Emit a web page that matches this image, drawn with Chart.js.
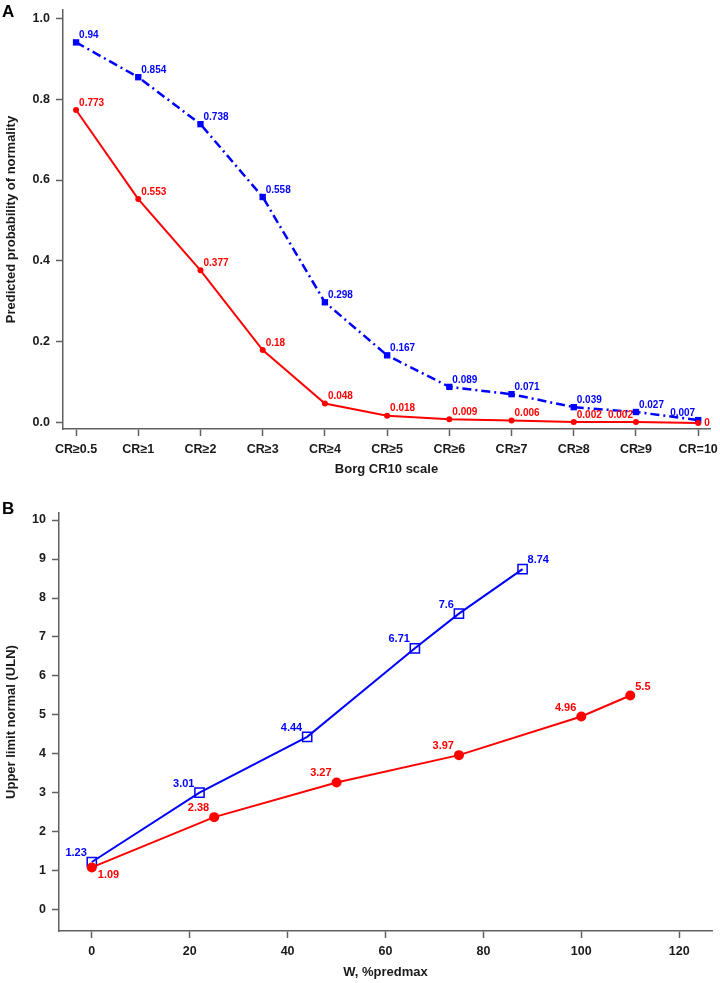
<!DOCTYPE html>
<html>
<head>
<meta charset="utf-8">
<script src="https://cdn.jsdelivr.net/npm/chart.js@4"></script>
<style>
  body { margin: 0; background: #fff; font-family: "Liberation Sans", Arial, sans-serif; }
  .panel { position: absolute; left: 0; width: 720px; }
  #panelA { top: 0; height: 480px; }
  #panelB { top: 480px; height: 503px; }
  .tag { position: absolute; left: 2px; font-weight: bold; font-size: 17px; line-height: 17px; color: #000; z-index: 2; }
</style>
</head>
<body>
<div class="tag" style="top:3px">A</div>
<div class="tag" style="top:500px">B</div>
<div class="panel" id="panelA"><canvas id="chartA" width="720" height="480"></canvas></div>
<div class="panel" id="panelB"><canvas id="chartB" width="720" height="503"></canvas></div>

<script>
// panel A: predicted probability of normality by Borg CR10 threshold
const borgCats = ['CR≥0.5', 'CR≥1', 'CR≥2', 'CR≥3', 'CR≥4', 'CR≥5', 'CR≥6', 'CR≥7', 'CR≥8', 'CR≥9', 'CR=10'];
const probRed = [0.773, 0.553, 0.377, 0.18, 0.048, 0.018, 0.009, 0.006, 0.002, 0.002, 0];
const probBlue = [0.94, 0.854, 0.738, 0.558, 0.298, 0.167, 0.089, 0.071, 0.039, 0.027, 0.007];
const probTicks = [0, 0.2, 0.4, 0.6, 0.8, 1.0];

// panel B: upper limit normal vs work rate
const wBlue = [0, 22, 44, 66, 75, 88];
const ulnBlue = [1.23, 3.01, 4.44, 6.71, 7.6, 8.74];
const wRed = [0, 25, 50, 75, 100, 110];
const ulnRed = [1.09, 2.38, 3.27, 3.97, 4.96, 5.5];
const wTicks = [0, 20, 40, 60, 80, 100, 120];
const ulnTicks = [0, 1, 2, 3, 4, 5, 6, 7, 8, 9, 10];

const RED = '#ff0000';
const BLUE = '#0000ff';
const AXIS = '#606060';
const TEXT = '#1a1a1a';
const FONT = '"Liberation Sans", Arial, sans-serif';
const TICK_FONT = { family: FONT, size: 12.5, weight: 'bold' };
const TITLE_FONT = { family: FONT, size: 13, weight: 'bold' };

// draws each point's value next to it; placement comes from dataset.labelPos
function pointLabels(fontSize, dx, dy) {
    return {
        id: 'pointLabels',
        afterDatasetsDraw(chart) {
            const ctx = chart.ctx;
            ctx.save();
            ctx.font = `bold ${fontSize}px ${FONT}`;
            ctx.textBaseline = 'middle';
            chart.data.datasets.forEach((ds, i) => {
                const meta = chart.getDatasetMeta(i);
                ctx.fillStyle = ds.borderColor;
                meta.data.forEach((pt, j) => {
                    const pos = ds.labelPos[j];
                    const text = String(ds.data[j].y);
                    let x = pt.x, y = pt.y;
                    if (pos === 'ne') { ctx.textAlign = 'left'; x += dx; y -= dy; }
                    else if (pos === 'nw') { ctx.textAlign = 'right'; x -= dx; y -= dy; }
                    else if (pos === 'e') { ctx.textAlign = 'left'; x += dx * 2; }
                    else if (pos === 'se') { ctx.textAlign = 'left'; x += dx + 1; y += dy - 1; }
                    ctx.fillText(text, x, y);
                });
            });
            ctx.restore();
        }
    };
}

function axisStyle(titleText, extra) {
    return Object.assign({
        type: 'linear',
        border: { color: AXIS, width: 1.5 },
        grid: { drawOnChartArea: false, drawTicks: true, tickLength: 7, tickColor: AXIS, tickWidth: 1.5 },
        title: { display: true, text: titleText, color: TEXT, font: TITLE_FONT, padding: { top: 4, bottom: 3 } }
    }, extra);
}

function fixWidth(w) {
    return s => { s.width = w; s.paddingTop = 0; s.paddingBottom = 0; };
}
function fixHeight(h) {
    return s => { s.height = h; s.paddingLeft = 0; s.paddingRight = 0; };
}

function buildChartA() {
    const ctx = document.getElementById('chartA').getContext('2d');
    new Chart(ctx, {
        type: 'line',
        data: {
            datasets: [
                {
                    data: probRed.map((v, i) => ({ x: i, y: v })),
                    borderColor: RED, backgroundColor: RED, borderWidth: 2,
                    pointStyle: 'circle', pointRadius: 3, pointBorderWidth: 0,
                    labelPos: ['ne', 'ne', 'ne', 'ne', 'ne', 'ne', 'ne', 'ne', 'ne', 'nw', 'e']
                },
                {
                    data: probBlue.map((v, i) => ({ x: i, y: v })),
                    borderColor: BLUE, backgroundColor: BLUE, borderWidth: 2.5,
                    borderDash: [9, 4, 2, 4],
                    pointStyle: 'rect', pointRadius: 4.5, pointBorderWidth: 0,
                    labelPos: ['ne', 'ne', 'ne', 'ne', 'ne', 'ne', 'ne', 'ne', 'ne', 'ne', 'nw']
                }
            ]
        },
        options: {
            responsive: false,
            animation: false,
            layout: { padding: { left: 0, right: 10, top: 10, bottom: 0 } },
            plugins: { legend: { display: false }, tooltip: { enabled: false } },
            scales: {
                x: axisStyle('Borg CR10 scale', {
                    min: -0.21, max: 10.19,
                    afterBuildTicks: s => { s.ticks = borgCats.map((_, i) => ({ value: i })); },
                    afterFit: fixHeight(51),
                    ticks: { color: TEXT, font: TICK_FONT, padding: 6, maxRotation: 0, autoSkip: false,
                             callback: v => borgCats[v] }
                }),
                y: axisStyle('Predicted probability of normality', {
                    min: -0.015, max: 1.02,
                    afterBuildTicks: s => { s.ticks = probTicks.map(v => ({ value: v })); },
                    afterFit: fixWidth(63),
                    ticks: { color: TEXT, font: TICK_FONT, padding: 6, callback: v => v.toFixed(1) }
                })
            }
        },
        plugins: [pointLabels(10, 3, 7)]
    });
}

function buildChartB() {
    const ctx = document.getElementById('chartB').getContext('2d');
    new Chart(ctx, {
        type: 'line',
        data: {
            datasets: [
                {
                    data: wRed.map((w, i) => ({ x: w, y: ulnRed[i] })),
                    borderColor: RED, backgroundColor: RED, borderWidth: 2,
                    pointStyle: 'circle', pointRadius: 5, pointBorderWidth: 0,
                    labelPos: ['se', 'nw', 'nw', 'nw', 'nw', 'ne']
                },
                {
                    data: wBlue.map((w, i) => ({ x: w, y: ulnBlue[i] })),
                    borderColor: BLUE, backgroundColor: 'rgba(255,255,255,0)', borderWidth: 2,
                    pointStyle: 'rect', pointRadius: 6.5, pointBorderWidth: 1.5,
                    labelPos: ['nw', 'nw', 'nw', 'nw', 'nw', 'ne']
                }
            ]
        },
        options: {
            responsive: false,
            animation: false,
            layout: { padding: { left: 0, right: 2, top: 33, bottom: 0 } },
            plugins: { legend: { display: false }, tooltip: { enabled: false } },
            scales: {
                x: axisStyle('W, %predmax', {
                    min: -6.7, max: 126.7,
                    afterBuildTicks: s => { s.ticks = wTicks.map(v => ({ value: v })); },
                    afterFit: fixHeight(52),
                    ticks: { color: TEXT, font: TICK_FONT, padding: 6, maxRotation: 0 }
                }),
                y: axisStyle('Upper limit normal (ULN)', {
                    min: -0.54, max: 10.18,
                    afterBuildTicks: s => { s.ticks = ulnTicks.map(v => ({ value: v })); },
                    afterFit: fixWidth(59),
                    ticks: { color: TEXT, font: TICK_FONT, padding: 6 }
                })
            }
        },
        plugins: [pointLabels(11, 5, 9)]
    });
}

window.onload = () => {
    buildChartA();
    buildChartB();
};
</script>
</body>
</html>
